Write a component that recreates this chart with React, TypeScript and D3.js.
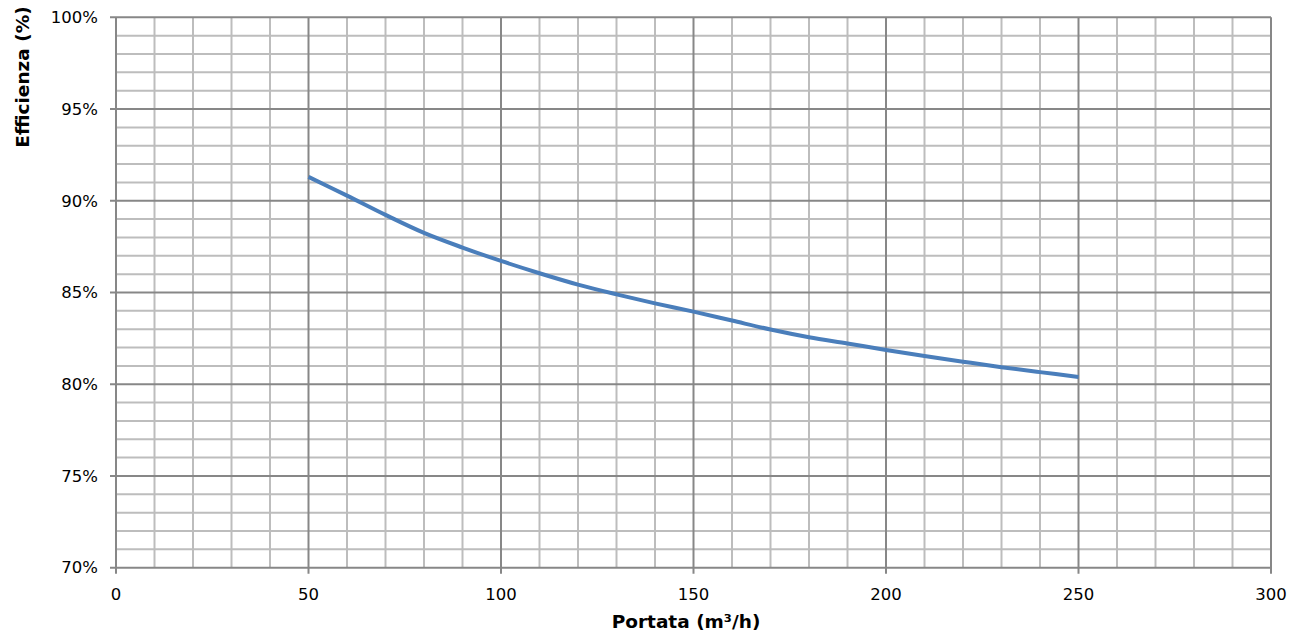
import React from "react";
import * as d3 from "d3";

const flow = [50, 60, 70, 80, 90, 100, 110, 120, 130, 140, 150, 160, 170, 180, 190, 200, 210, 220, 230, 240, 250];
const efficiency = [91.3, 90.28, 89.23, 88.25, 87.45, 86.72, 86.05, 85.43, 84.9, 84.41, 83.96, 83.47, 82.98, 82.56, 82.22, 81.87, 81.54, 81.23, 80.93, 80.66, 80.4];
const xMajorTicks = [0, 50, 100, 150, 200, 250, 300];
const yMajorTicks = [70, 75, 80, 85, 90, 95, 100];

const W = 1297, H = 636;
const L = 116, R = 1271, T = 17.3, B = 567.7;
const FONT = "'DejaVu Sans', sans-serif";

export default function App() {
  const x = d3.scaleLinear().domain([0, 300]).range([L, R]);
  const y = d3.scaleLinear().domain([70, 100]).range([B, T]);
  const xMinor = d3.range(0, 301, 10).filter((v) => v % 50 !== 0);
  const yMinor = d3.range(70, 100.5, 1).filter((v) => v % 5 !== 0);
  const line = d3
    .line<number>()
    .x((_, i) => x(flow[i]))
    .y((d) => y(d))
    .curve(d3.curveCatmullRom.alpha(0.5));

  return (
    <svg width={W} height={H} style={{ position: "absolute", left: 0, top: 0, background: "#fff" }}>
      {xMinor.map((v) => (
        <line key={"xm" + v} x1={x(v)} x2={x(v)} y1={T} y2={B} stroke="#bdbdbd" strokeWidth={2} />
      ))}
      {yMinor.map((v) => (
        <line key={"ym" + v} x1={L} x2={R} y1={y(v)} y2={y(v)} stroke="#bdbdbd" strokeWidth={2} />
      ))}
      {xMajorTicks.map((v) => (
        <line key={"xM" + v} x1={x(v)} x2={x(v)} y1={T} y2={B + 6} stroke="#878787" strokeWidth={2} />
      ))}
      {yMajorTicks.map((v) => (
        <line key={"yM" + v} x1={L - 6} x2={R} y1={y(v)} y2={y(v)} stroke="#878787" strokeWidth={2} />
      ))}
      {yMajorTicks.map((v) => (
        <text key={"yl" + v} x={98} y={y(v)} dy="0.35em" textAnchor="end" fontFamily={FONT} fontSize={16.5} fill="#000">
          {v + "%"}
        </text>
      ))}
      {xMajorTicks.map((v) => (
        <text key={"xl" + v} x={x(v)} y={600} textAnchor="middle" fontFamily={FONT} fontSize={16.5} fill="#000">
          {v}
        </text>
      ))}
      <path d={line(efficiency) || ""} fill="none" stroke="#4a7ebb" strokeWidth={4} strokeLinecap="butt" />
      <text x={686} y={628} textAnchor="middle" fontFamily={FONT} fontSize={18.5} fontWeight="bold" fill="#000">
        Portata (m³/h)
      </text>
      <text
        transform="translate(29,77) rotate(-90)"
        textAnchor="middle"
        fontFamily={FONT}
        fontSize={18.5}
        fontWeight="bold"
        fill="#000"
      >
        Efficienza (%)
      </text>
    </svg>
  );
}
